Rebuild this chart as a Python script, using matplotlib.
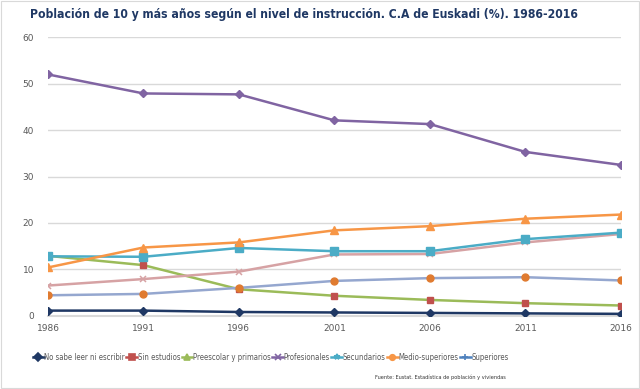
import matplotlib.pyplot as plt
from matplotlib.lines import Line2D
from matplotlib.patches import Rectangle

years = ['1986', '1991', '1996', '2001', '2006', '2011', '2016']

# valores (%)
preescolar = [52.0, 47.9, 47.7, 42.1, 41.3, 35.3, 32.5]
superiores = [10.4, 14.7, 15.8, 18.4, 19.3, 20.9, 21.8]
profesionales = [12.8, 12.7, 14.6, 13.9, 13.9, 16.5, 17.9]
secundarios = [6.5, 7.9, 9.5, 13.2, 13.3, 15.8, 17.6]
medio_superiores = [4.4, 4.7, 6.0, 7.5, 8.1, 8.3, 7.6]
sin_estudios = [12.9, 10.9, 5.7, 4.3, 3.4, 2.7, 2.2]
no_sabe = [1.1, 1.1, 0.8, 0.7, 0.6, 0.5, 0.4]

legend_labels = ['No sabe leer ni escribir', 'Sin estudios', 'Preescolar y primarios',
                 'Profesionales', 'Secundarios', 'Medio-superiores', 'Superiores']

navy = '#1F3864'
red = '#C0504D'
green = '#9BBB59'
purple = '#8064A2'
cyan = '#4BACC6'
orange = '#F79646'
blue = '#4F81BD'

fig = plt.figure(figsize=(6.4, 3.89), dpi=100)
ax = fig.add_axes([0.075, 0.1884, 0.895, 0.7157])
x = range(len(years))

lw = 1.8
ax.plot(x, no_sabe, color=navy, lw=lw, marker='D', ms=4, mfc=navy, mec=navy, zorder=3)
ax.plot(x, sin_estudios, color=green, lw=lw, marker='s', ms=5, mfc=red, mec=red, zorder=3)
ax.plot(x, medio_superiores, color='#95A7CF', lw=lw, marker='o', ms=5, mfc='#E07B30', mec='#E07B30', zorder=3)
ax.plot(x, secundarios, color='#D6A2A4', lw=lw, marker='x', ms=5, mec='#D6A2A4', mew=1.1, zorder=3)
ax.plot(x, profesionales, color=cyan, lw=lw, marker='s', ms=5.5, mfc=cyan, mec=cyan, zorder=3)
ax.plot(x, superiores, color=orange, lw=lw, marker='^', ms=5.5, mfc=orange, mec=orange, zorder=4)
ax.plot(x, preescolar, color=purple, lw=lw, marker='D', ms=4.5, mfc=purple, mec=purple, zorder=4)

ax.set_xlim(0, len(years) - 1)
ax.set_ylim(0, 60)
ax.set_yticks(range(0, 61, 10))
ax.set_xticks(list(x))
ax.set_xticklabels(years)
ax.grid(axis='y', color='#D9D9D9', lw=1)
ax.set_axisbelow(True)
for s in ['top', 'right', 'left']:
    ax.spines[s].set_visible(False)
ax.spines['bottom'].set_color('#D9D9D9')
ax.spines['bottom'].set_linewidth(1.5)
ax.tick_params(length=0, labelsize=6.5, colors='#595959', pad=6)
ax.tick_params(axis='y', pad=10)

fig.text(0.475, 0.963, 'Población de 10 y más años según el nivel de instrucción. C.A de Euskadi (%). 1986-2016',
         ha='center', va='center', fontsize=8.7, fontweight='bold', color=navy,
         family='DejaVu Sans', fontstretch='condensed')

markers = ['D', 's', '^', 'x', '*', 'o', '+']
colors = [navy, red, green, purple, cyan, orange, blue]
handles = [Line2D([0], [0], color=c, lw=1.8, marker=m, ms=4, mfc=c, mec=c, mew=1.2)
           for c, m in zip(colors, markers)]
fig.legend(handles, legend_labels, loc='center', bbox_to_anchor=(0.423, 0.082), ncol=7,
           frameon=False, handlelength=1.4, handletextpad=0.1,
           columnspacing=0.15, labelcolor='#595959',
           prop={'family': 'DejaVu Sans', 'stretch': 'condensed', 'size': 5.6})

fig.text(0.79, 0.03, 'Fuente: Eustat. Estadística de población y viviendas', ha='right',
         va='center', fontsize=3.6, color='#333333')

fig.add_artist(Rectangle((0.002, 0.002), 0.996, 0.996, transform=fig.transFigure,
                         fill=False, ec='#D9D9D9', lw=0.8))

fig.savefig('out.png', dpi=100)
